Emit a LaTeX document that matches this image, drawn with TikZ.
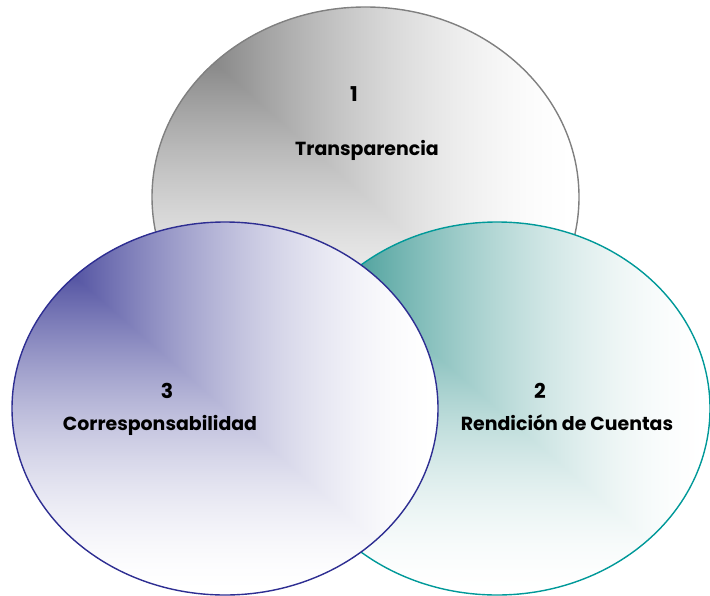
\documentclass[tikz,border=0pt]{standalone}
\usepackage{fontspec}
\setmainfont{Poppins}
\usetikzlibrary{shapes.geometric}
\definecolor{grayedge}{RGB}{128,128,128}
\definecolor{tealedge}{RGB}{0,153,153}
\definecolor{purpedge}{RGB}{46,46,146}
% rectangular (corner) gradient: start colour at the top-left corner, white at the far sides
% #2 #3 #4 = 1 - r0, 1 - g0, 1 - b0
\newcommand\mkvennshade[4]{%
  \pgfdeclarefunctionalshading{#1}{\pgfpointorigin}{\pgfpoint{100bp}{100bp}}{}{%
    75 exch sub 50 div exch 25 sub 50 div
    2 copy lt {exch} if pop
    dup 0 lt {pop 0} if dup 1 gt {pop 1} if
    1 exch sub 1.7 exp
    dup #2 mul 1 exch sub exch
    dup #3 mul 1 exch sub exch
    #4 mul 1 exch sub
  }}
\mkvennshade{grayshade}{0.608}{0.608}{0.608}
\mkvennshade{tealshade}{0.941}{0.498}{0.522}
\mkvennshade{purpshade}{0.871}{0.871}{0.471}
\tikzset{
  vennblob/.style n args={4}{ellipse, draw=#1, line width=1.4bp, inner sep=0pt,
    minimum width=#3, minimum height=#4,
    path picture={
      \fill[shading=#2]
        (path picture bounding box.north west) rectangle (path picture bounding box.south east);
    }},
  numlabel/.style={font=\fontsize{20.5}{24}\selectfont\bfseries, inner sep=0pt, anchor=base},
  txtlabel/.style={font=\fontsize{19}{22}\selectfont\bfseries, inner sep=0pt, anchor=base}
}
\begin{document}
\begin{tikzpicture}[x=1bp,y=-1bp]
\useasboundingbox (0,0) rectangle (710,596);
\node[vennblob={grayedge}{grayshade}{427bp}{380bp}] (grayc) at (365.5,197) {};
\node[vennblob={tealedge}{tealshade}{426bp}{373bp}] (tealc) at (497,408.5) {};
\node[vennblob={purpedge}{purpshade}{426bp}{373bp}] (purpc) at (225,408.5) {};
\node[numlabel] (n1) at (354,102) {1};
\node[txtlabel] (t1) at (367,155.5) {Transparencia};
\node[numlabel] (n2) at (540,398) {2};
\node[txtlabel] (t2) at (567,430) {Rendición de Cuentas};
\node[numlabel] (n3) at (167,398) {3};
\node[txtlabel] (t3) at (160,430) {Corresponsabilidad};
\end{tikzpicture}
\end{document}
